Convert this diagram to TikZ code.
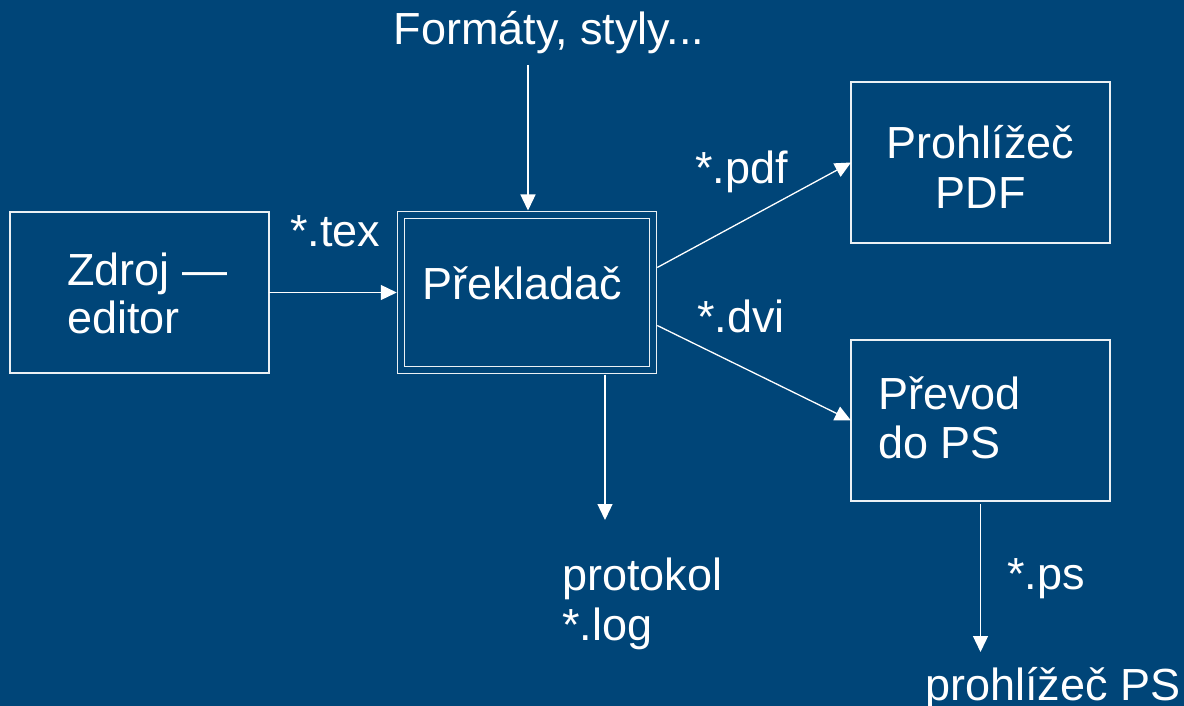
\documentclass[tikz,border=0pt]{standalone}
\usepackage{fontspec}
\setmainfont{Liberation Sans}
\usetikzlibrary{arrows.meta}
\definecolor{bg}{RGB}{0,69,120}
\begin{document}
\begin{tikzpicture}[x=1pt,y=-1pt,
  box/.style={draw=white!92!bg, line width=1.2pt, inner sep=0pt, outer sep=0pt, minimum width=259pt, minimum height=161pt},
  txt/.style={text=white, font=\fontsize{45}{54}\selectfont, inner sep=0pt, anchor=base west},
  arr/.style={draw=white, line width=1.3pt, -{Triangle[length=16pt,width=15pt]}}]
\fill[bg] (0,0) rectangle (1184,706);
\useasboundingbox (0,0) rectangle (1184,706);
% boxes
\node[box] (src) at (139.5,292.5) {};
\node[box, minimum width=251.5pt, minimum height=155pt, double=bg, double distance=6pt, outer sep=4.5pt] (prek) at (527,292.5) {};
\node[box, minimum height=161pt] (pdfv) at (980.5,162.5) {};
\node[box] (conv) at (980.5,420.5) {};
% texts
\node[txt] (t1) at (67,285) {Zdroj —};
\node[txt] (t2) at (67,333) {editor};
\node[txt] (t3) at (422,299) {Překladač};
\node[txt, anchor=base] (t4) at (980.5,159) {Prohlížeč};
\node[txt, anchor=base] (t5) at (980.5,208) {PDF};
\node[txt] (t6) at (878,409) {Převod};
\node[txt] (t7) at (878,458) {do PS};
\node[txt, anchor=base] (fmt) at (549,45) {Formáty, styly...};
\node[txt] (ltex) at (290,246) {*.tex};
\node[txt] (lpdf) at (695,183) {*.pdf};
\node[txt] (ldvi) at (697,332) {*.dvi};
\node[txt] (llog1) at (562,590) {protokol};
\node[txt] (llog2) at (562,640) {*.log};
\node[txt] (lps) at (1007,589) {*.ps};
\node[txt] (lpsv) at (925,700) {prohlížeč PS};
% connectors
\coordinate (fmtend) at (528,65);
\coordinate (logend) at (605,520);
\coordinate (psend) at (980.5,652);
\draw[arr] (src.east) -- (prek.west);
\draw[arr] (fmtend) -- (prek.north -| fmtend);
\draw[arr] ([yshift=25pt]prek.east) -- (pdfv.west);
\draw[arr] ([yshift=-33pt]prek.east) -- (conv.west);
\draw[arr] (prek.south -| logend) -- (logend);
\draw[arr] ([yshift=-3pt]conv.south) -- (psend);
\end{tikzpicture}
\end{document}
